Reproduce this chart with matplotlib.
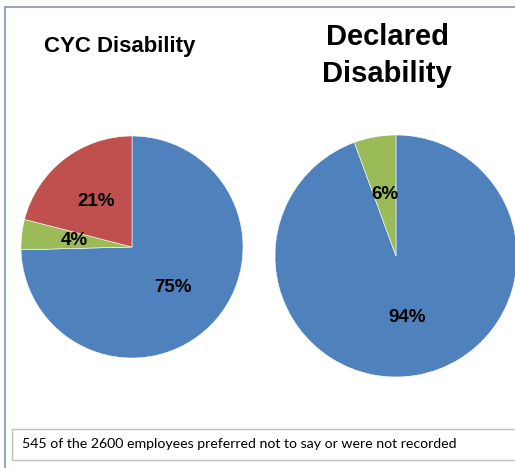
import matplotlib.pyplot as plt
from matplotlib.patches import Rectangle

# data
cyc_values = [74.6, 4.4, 21.0]
cyc_labels = ['75%', '4%', '21%']
declared_values = [94.4, 5.6]
declared_labels = ['94%', '6%']
colors = ['#4F81BD', '#9BBB59', '#C0504D']
note = '545 of the 2600 employees preferred not to say or were not recorded'

W, H = 515, 468
fig = plt.figure(figsize=(W / 100, H / 100), dpi=100)

def px_axes(left, top, w, h):
    return fig.add_axes([left / W, 1 - (top + h) / H, w / W, h / H])

# outer frame
fig.patches.append(Rectangle((5 / W, -0.1), 1.2, 1 - 7.5 / H + 0.1, transform=fig.transFigure,
                             fill=False, edgecolor='#7F96B8', linewidth=1.2))

def draw_pie(ax, values, labels):
    wedges, texts = ax.pie(values, labels=labels, colors=colors[:len(values)], startangle=90,
                           counterclock=False, labeldistance=0.52,
                           wedgeprops=dict(edgecolor='white', linewidth=0.4))
    for t in texts:
        t.set_ha('center')
        t.set_va('center')
        t.set_fontsize(13.5)
        t.set_fontweight('bold')
        t.set_family('Liberation Sans')
    ax.set_xlim(-1, 1)
    ax.set_ylim(-1, 1)
    ax.set_aspect('equal')
    ax.axis('off')

ax1 = px_axes(21, 136, 222, 222)
draw_pie(ax1, cyc_values, cyc_labels)

ax2 = px_axes(275, 135, 242, 242)
draw_pie(ax2, declared_values, declared_labels)

fig.text(120 / W, 1 - 52 / H, 'CYC Disability', ha='center', va='baseline',
         fontsize=16, fontweight='bold', family='Liberation Sans')
fig.text(387 / W, 1 - 45 / H, 'Declared', ha='center', va='baseline',
         fontsize=21, fontweight='bold', family='Liberation Sans')
fig.text(387 / W, 1 - 82 / H, 'Disability', ha='center', va='baseline',
         fontsize=21, fontweight='bold', family='Liberation Sans')

# note box
fig.patches.append(Rectangle((12 / W, 1 - 460 / H), 1.0, 31 / H, transform=fig.transFigure,
                             fill=False, edgecolor='#BFBFBF', linewidth=1.0))
fig.text(22 / W, 1 - 444 / H, note, ha='left', va='center', fontsize=10.2, family='Lato')

fig.savefig('out.png', dpi=100)
